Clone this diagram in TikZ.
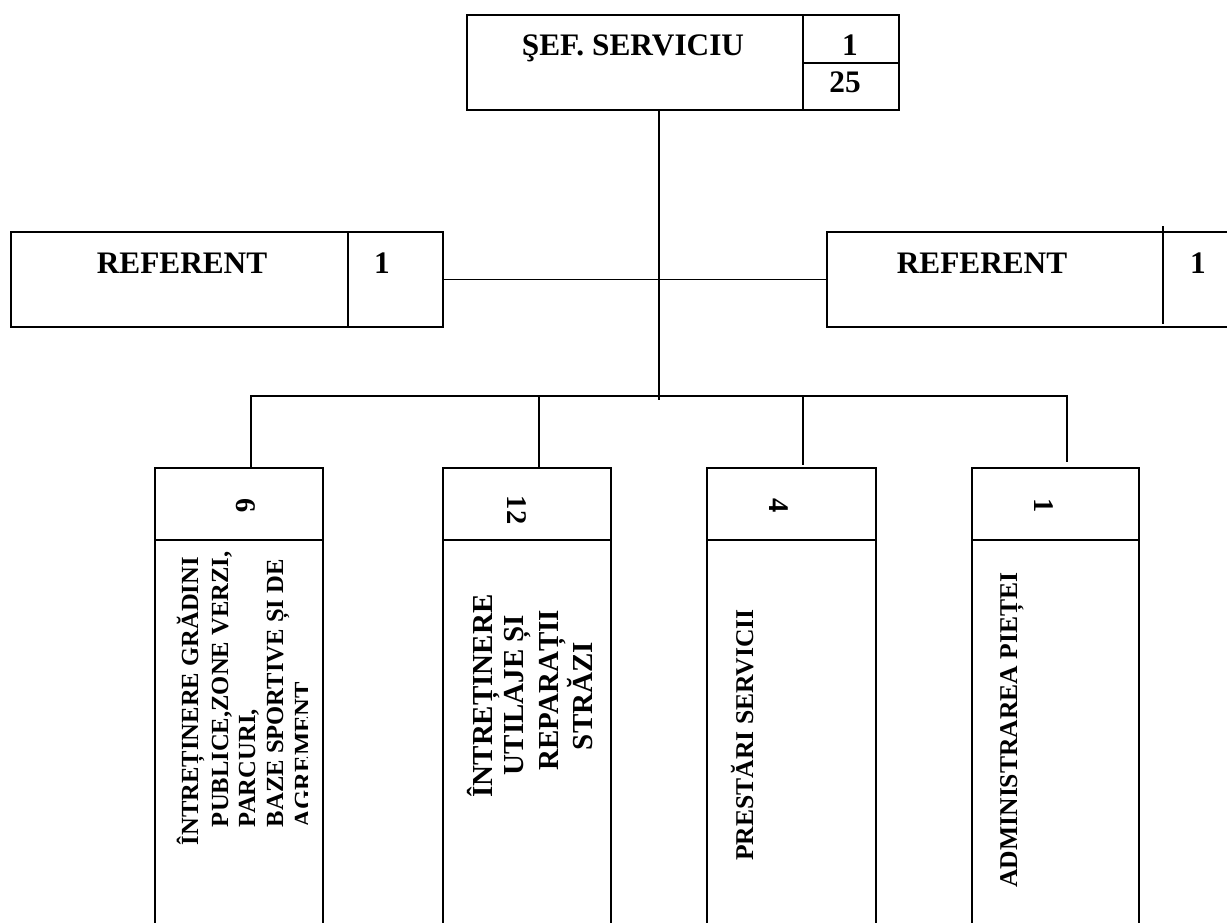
\documentclass[tikz,border=0pt]{standalone}
\usepackage{fontspec}
\setmainfont{Liberation Serif}
\begin{document}
\begin{tikzpicture}[x=1pt,y=-1pt,
  every node/.style={inner sep=0pt,outer sep=0pt},
  ln/.style={line width=1.3pt,line cap=rect},
  boxnode/.style={draw=none,rectangle},
  hdr/.style={font=\fontsize{31.3}{37}\selectfont\bfseries},
  num/.style={font=\fontsize{28.5}{33}\selectfont\bfseries,rotate=-90},
  vtA/.style={font=\fontsize{24.6}{28}\selectfont\bfseries,rotate=90,anchor=base west},
  vtB/.style={font=\fontsize{29}{34}\selectfont\bfseries,rotate=90,anchor=base},
  vtC/.style={font=\fontsize{25.6}{30}\selectfont\bfseries,rotate=90,anchor=base}]
\useasboundingbox (0,0) rectangle (1227,922);
\fill[white] (0,0) rectangle (1227,922);

% top box
\node[boxnode,draw,ln,minimum width=432pt,minimum height=95pt] (sef) at (683,62.5) {};
\draw[ln] (803,15) -- (803,110);
\draw[ln] (803,63) -- (899,63);
\node[hdr,anchor=base] (sefT) at (633,55) {ŞEF. SERVICIU};
\node[hdr,anchor=base] (sefN1) at (850,55) {1};
\node[hdr,anchor=base] (sefN2) at (845,92) {25};

% referent boxes
\node[boxnode,draw,ln,minimum width=432pt,minimum height=95pt] (refL) at (227,279.5) {};
\draw[ln] (348,232) -- (348,327);
\node[hdr,anchor=base] (refLT) at (182,273) {REFERENT};
\node[hdr,anchor=base] (refLN) at (382,273) {1};

\node[boxnode,minimum width=400pt,minimum height=95pt] (refR) at (1027,279.5) {};
\draw[ln] (1230,232) -- (827,232) -- (827,327) -- (1230,327);
\draw[ln] (1163,227) -- (1163,323);
\node[hdr,anchor=base] (refRT) at (982,273) {REFERENT};
\node[hdr,anchor=base] (refRN) at (1198,273) {1};

% connectors
\coordinate (top) at (659,110);
\coordinate (busc) at (659,399);
\draw[ln] (top) -- (busc);
\draw[ln] (refL.east) -- (refR.west);

\coordinate (b1) at (251,396);
\coordinate (b2) at (539,396);
\coordinate (b3) at (803,396);
\coordinate (b4) at (1067,396);
\draw[ln] (b1) -- (b4);

% lower boxes
\node[boxnode,minimum width=168pt,minimum height=454pt] (box1) at (239,695) {};
\node[boxnode,minimum width=168pt,minimum height=454pt] (box2) at (527,695) {};
\node[boxnode,minimum width=169pt,minimum height=454pt] (box3) at (791.5,695) {};
\node[boxnode,minimum width=167pt,minimum height=454pt] (box4) at (1055.5,695) {};
\foreach \b in {box1,box2,box3,box4}{
  \draw[ln] ([yshift=-5pt]\b.south west) -- (\b.north west) -- (\b.north east) -- ([yshift=-5pt]\b.south east);
  \draw[ln] (\b.north west) ++(0,72) -- ([yshift=-72pt]\b.north east);
}
\draw[ln] (b1) -- (b1 |- box1.north);
\draw[ln] (b2) -- (b2 |- box2.north);
\coordinate (e3) at (803,464);
\coordinate (e4) at (1067,461);
\draw[ln] (b3) -- (e3);
\draw[ln] (b4) -- (e4);

% numbers
\node[num] (n1) at (246,506) {6};
\node[num] (n2) at (517,510) {12};
\node[num] (n3) at (779,506) {4};
\node[num] (n4) at (1044,506) {1};

% box 1 text (clipped)
\begin{scope}
\clip (158,545) rectangle (307,920);
\node[vtA] (t11) at (198,845) {ÎNTREȚINERE GRĂDINI};
\node[vtA] (t12) at (228,827) {PUBLICE,ZONE VERZI,};
\node[vtA] (t13) at (255,827) {PARCURI,};
\node[vtA] (t14) at (283,827) {BAZE SPORTIVE ȘI DE};
\node[vtA] (t15) at (311,827) {AGREMENT};
\end{scope}

% box 2 text
\node[vtB] (t21) at (492,696) {ÎNTREȚINERE};
\node[vtB] (t22) at (523,695) {UTILAJE ȘI};
\node[vtB] (t23) at (558,690) {REPARAȚII};
\node[vtB] (t24) at (592,696) {STRĂZI};

% box 3, 4 text
\node[vtC] (t31) at (753,735) {PRESTĂRI SERVICII};
\node[vtC] (t41) at (1017,730) {ADMINISTRAREA PIEȚEI};
\end{tikzpicture}
\end{document}
